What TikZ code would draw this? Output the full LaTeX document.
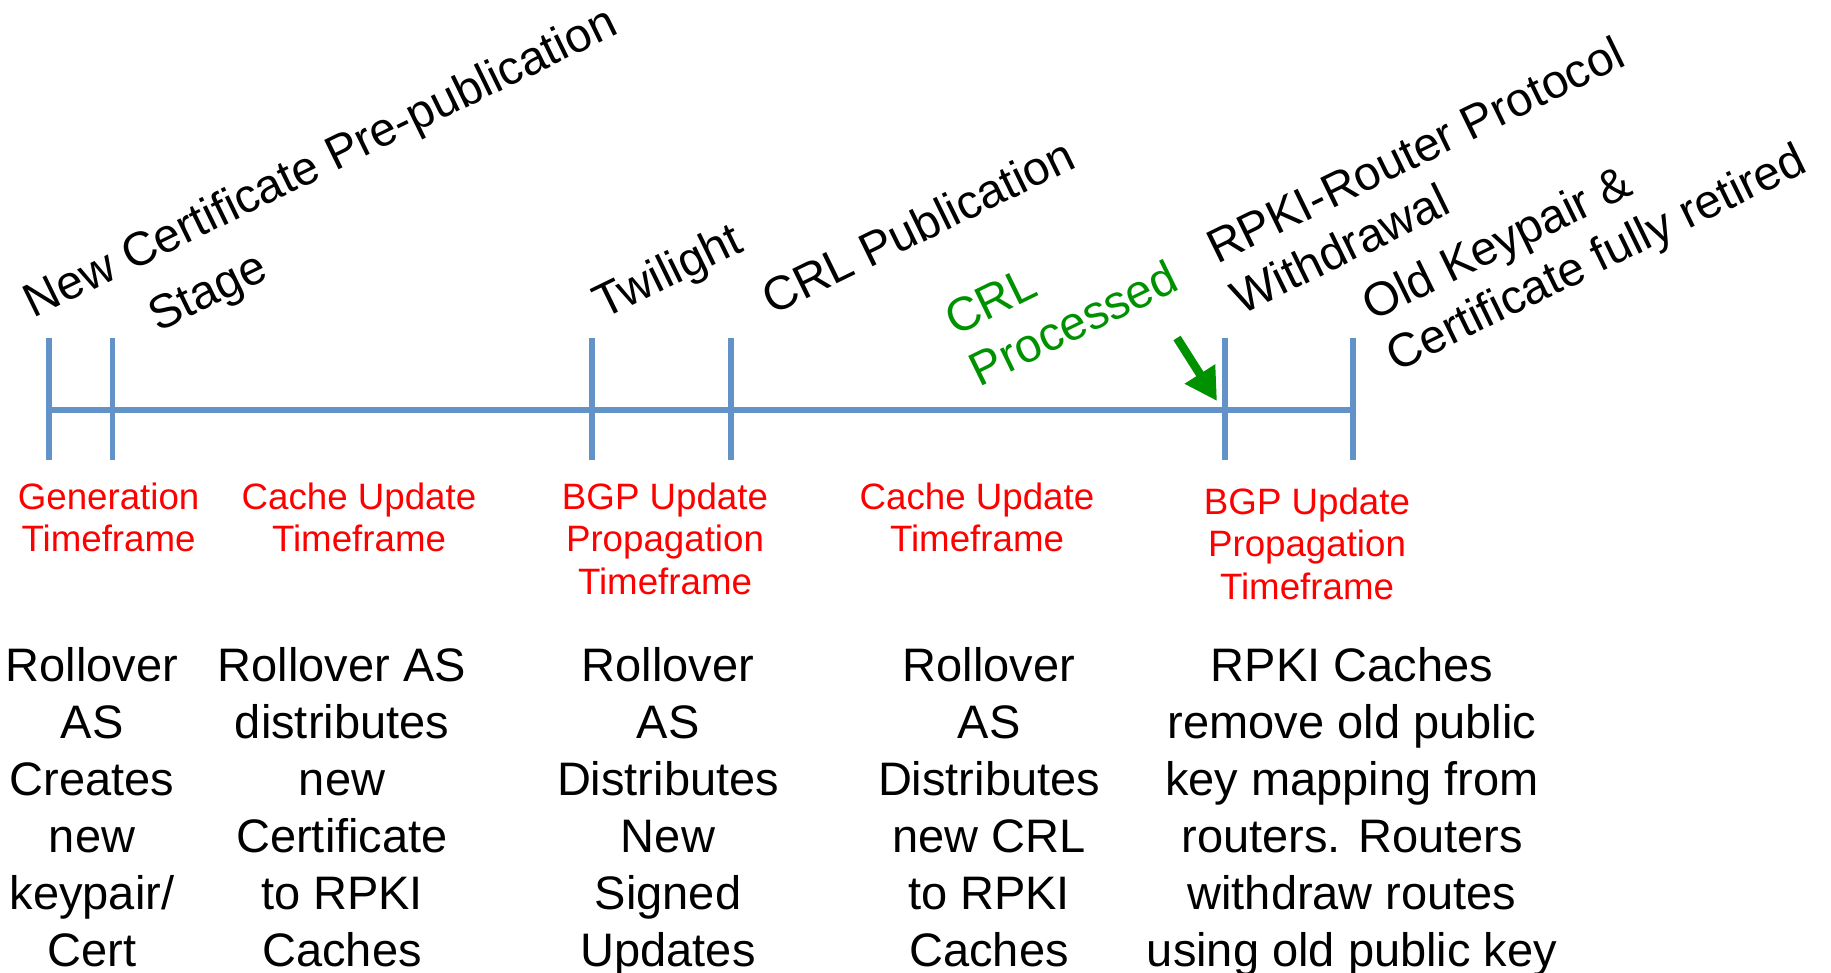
\documentclass[tikz,border=0pt]{standalone}
\usepackage{fontspec}
\setmainfont{Liberation Sans}
\usetikzlibrary{arrows.meta}
\definecolor{tlblue}{RGB}{98,146,200}
\definecolor{lblred}{RGB}{255,0,0}
\definecolor{okgreen}{RGB}{0,145,0}
\tikzset{
  tl/.style={line width=5.5pt, draw=tlblue},
  tlshadow/.style={line width=5.5pt, draw=black, opacity=0.12},
  toplbl/.style={rotate=26, anchor=base west, align=left, inner sep=0pt, font=\fontsize{47.5}{56}\selectfont},
  redlbl/.style={anchor=base, align=center, inner sep=0pt, text=lblred, font=\fontsize{36.7}{42.5}\selectfont},
  body/.style={anchor=base, align=center, inner sep=0pt, font=\fontsize{47}{57}\selectfont},
  greenarrow/.style={line width=8.5pt, draw=okgreen, -{Triangle[length=32pt,width=34pt]}},
}
\begin{document}
\begin{tikzpicture}[x=1pt,y=-1pt]
\useasboundingbox (0,0) rectangle (1831,972);
% timeline coordinates
\foreach \n/\x in {a/49,b/112.5,c/592,d/731,e/1225,f/1353}{
  \coordinate (\n top) at (\x,338);
  \coordinate (\n bot) at (\x,460);
  \coordinate (\n mid) at (\x,410);
}
% shadow
\begin{scope}[shift={(1.5,3)}]
  \draw[tlshadow] (amid) -- (fmid);
  \foreach \n in {a,b,c,d,e,f}{\draw[tlshadow] (\n top) -- (\n bot);}
\end{scope}
\draw[tl] (amid) -- (fmid);
\foreach \n in {a,b,c,d,e,f}{\draw[tl] (\n top) -- (\n bot);}

% top rotated labels (anchor = start of the last line's baseline)
\node[toplbl] (l1) at (63,379) {New Certificate Pre-publication\\[11pt]\hspace*{106pt}Stage};
\node[toplbl] (l2) at (603,320) {Twilight};
\node[toplbl] (l3) at (772,316) {CRL Publication};
\node[toplbl, text=okgreen] (l4) at (979.5,387.3) {CRL\\Processed};
\node[toplbl] (l5) at (1241.5,315.3) {RPKI-Router Protocol\\Withdrawal};
\node[toplbl] (l6) at (1396.5,372.3) {Old Keypair \&\\Certificate fully retired};

% green arrow
\coordinate (arT) at (1177,338);
\coordinate (arH) at (1217,401);
\draw[greenarrow] (arT) -- (arH);

% red labels (anchor = baseline of the last line)
\node[redlbl] (r1) at (108.6,551.5) {Generation\\Timeframe};
\node[redlbl] (r2) at (359,551.5) {Cache Update\\Timeframe};
\node[redlbl] (r3) at (665,594) {BGP Update\\Propagation\\Timeframe};
\node[redlbl] (r4) at (977,551.5) {Cache Update\\Timeframe};
\node[redlbl] (r5) at (1307,599) {BGP Update\\Propagation\\Timeframe};

% body text (anchor = baseline of the last line)
\node[body] (b1) at (92,966) {Rollover\\AS\\Creates\\new\\keypair/\\Cert};
\node[body] (b2) at (342,966) {Rollover AS\\distributes\\new\\Certificate\\to RPKI\\Caches};
\node[body] (b3) at (668,966) {Rollover\\AS\\Distributes\\New\\Signed\\Updates};
\node[body] (b4) at (989,966) {Rollover\\AS\\Distributes\\new CRL\\to RPKI\\Caches};
\node[body] (b5) at (1352,966) {RPKI Caches\\remove old public\\key mapping from\\routers. Routers\\withdraw routes\\using old public key};
\end{tikzpicture}
\end{document}
